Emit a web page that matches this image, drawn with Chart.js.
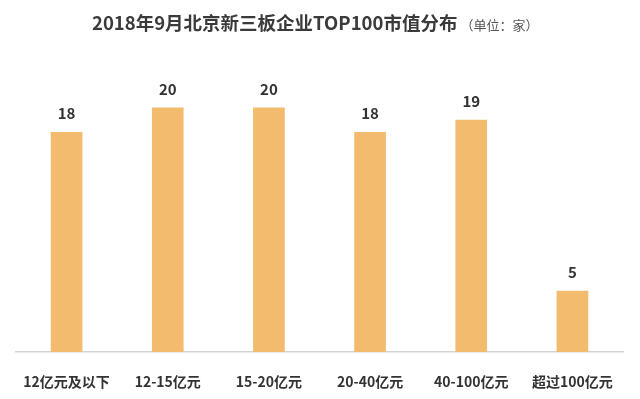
<!DOCTYPE html>
<html>
<head>
<meta charset="utf-8">
<script src="https://cdn.jsdelivr.net/npm/chart.js@4"></script>
<style>
  html, body { margin: 0; padding: 0; background: #ffffff; }
  #wrap { position: relative; width: 640px; height: 399px; }
  #title { position: absolute; left: 92px; top: 9px; white-space: nowrap;
           font-family: "Noto Sans CJK SC", "Noto Sans", sans-serif; color: #3a3a3a; }
  #title .main { font-size: 18.5px; font-weight: bold; }
  #title .unit { font-size: 13px; color: #555; margin-left: 3px; }
  canvas { position: absolute; left: 0; top: 0; }
</style>
</head>
<body>
<div id="wrap">
  <canvas id="c" width="640" height="399"></canvas>
  <div id="title"><span class="main">2018年9月北京新三板企业TOP100市值分布</span><span class="unit">（单位：家）</span></div>
</div>
<script>
const categories = ["12亿元及以下", "12-15亿元", "15-20亿元", "20-40亿元", "40-100亿元", "超过100亿元"];
const companyCounts = [18, 20, 20, 18, 19, 5];

const valueLabels = {
  id: 'valueLabels',
  afterDatasetsDraw(chart) {
    const ctx = chart.ctx;
    const meta = chart.getDatasetMeta(0);
    ctx.save();
    ctx.font = 'bold 15px "Noto Sans CJK SC", "Noto Sans", sans-serif';
    ctx.fillStyle = '#333333';
    ctx.textAlign = 'center';
    ctx.textBaseline = 'middle';
    meta.data.forEach((bar, i) => {
      ctx.fillText(String(companyCounts[i]), bar.x, bar.y - 19);
    });
    ctx.restore();
  }
};

new Chart(document.getElementById('c'), {
  type: 'bar',
  data: {
    labels: categories,
    datasets: [{
      data: companyCounts,
      backgroundColor: '#F2BB6E',
      borderWidth: 0,
      barThickness: 31
    }]
  },
  options: {
    responsive: false,
    animation: false,
    devicePixelRatio: 1,
    layout: { padding: { top: 59, left: 16, right: 17, bottom: 0 } },
    plugins: { legend: { display: false }, tooltip: { enabled: false }, title: { display: false } },
    scales: {
      x: {
        grid: { display: false, drawTicks: false },
        border: { display: true, color: '#d4d4d4', width: 1.5 },
        ticks: {
          color: '#333333',
          padding: 21,
          font: { family: '"Noto Sans CJK SC", "Noto Sans", sans-serif', size: 14, weight: 'bold' }
        },
        afterFit(scale) { scale.height = 47; }
      },
      y: { display: false, min: 0, max: 24 }
    }
  },
  plugins: [valueLabels]
});
</script>
</body>
</html>
